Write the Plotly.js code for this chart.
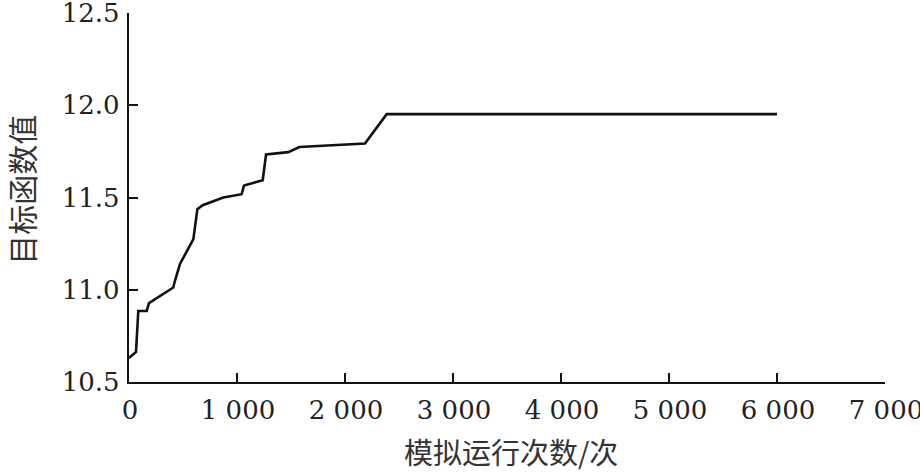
<!DOCTYPE html>
<html>
<head>
<meta charset="utf-8">
<script src="https://cdn.plot.ly/plotly-3.0.1.min.js"></script>
<style>html,body{margin:0;padding:0;background:#fff;}#chart{width:920px;height:473px;}</style>
</head>
<body>
<div id="chart"></div>
<script>
// Data
const runs = [0, 65, 86, 164, 185, 410, 426, 472, 596, 633, 682, 873, 1043, 1065, 1238, 1269, 1475, 1577, 2185, 2386, 6000];
const objective = [10.63, 10.663, 10.885, 10.885, 10.928, 11.012, 11.05, 11.14, 11.274, 11.437, 11.458, 11.50, 11.518, 11.565, 11.594, 11.733, 11.746, 11.774, 11.793, 11.952, 11.952];

const xTickVals = [0, 1000, 2000, 3000, 4000, 5000, 6000, 7000];
const xTickText = ["0", "1 000", "2 000", "3 000", "4 000", "5 000", "6 000", "7 000"];
const yTickVals = [10.5, 11.0, 11.5, 12.0, 12.5];
const yTickText = ["10.5", "11.0", "11.5", "12.0", "12.5"];

const xTitle = "模拟运行次数/次";
const yTitle = "目标函数值";

const serif = "DejaVu Serif, serif";
const cjk = "Noto Sans CJK SC";

const trace = {
  x: runs, y: objective, type: "scatter", mode: "lines",
  line: {color: "#111", width: 2.6}, hoverinfo: "skip", cliponaxis: false
};

const layout = {
  width: 920, height: 473,
  margin: {l: 129, r: 35, t: 13, b: 91, pad: 0},
  paper_bgcolor: "#fff", plot_bgcolor: "#fff",
  showlegend: false,
  font: {family: serif},
  xaxis: {
    range: [0, 7000], tickvals: xTickVals, ticktext: xTickText,
    showline: true, linecolor: "#111", linewidth: 2.2, mirror: false,
    showgrid: false, zeroline: false,
    ticks: "inside", ticklen: 9, tickwidth: 2, tickcolor: "#111",
    tickfont: {family: serif, size: 26, color: "#222"},
    ticklabelstandoff: 4, ticklabelshift: 1, ticklabeloverflow: "allow"
  },
  yaxis: {
    range: [10.5, 12.5], tickvals: yTickVals, ticktext: yTickText,
    showline: true, linecolor: "#111", linewidth: 2.2, mirror: false,
    showgrid: false, zeroline: false,
    ticks: "inside", ticklen: 9, tickwidth: 2, tickcolor: "#111",
    tickfont: {family: serif, size: 26, color: "#222"},
    ticklabelstandoff: 2, ticklabeloverflow: "allow"
  },
  annotations: [
    {text: xTitle, xref: "paper", yref: "paper", x: (511 - 129) / 756, y: -(451 - 381.7) / 368.7,
     xanchor: "center", yanchor: "middle", showarrow: false, borderpad: 0,
     font: {family: cjk, size: 29, color: "#333"}},
    {text: yTitle, xref: "paper", yref: "paper", x: -(129 - 21) / 756, y: (381.7 - 189.5) / 368.7,
     xanchor: "center", yanchor: "middle", showarrow: false, textangle: -90, borderpad: 0,
     font: {family: cjk, size: 30, color: "#333"}}
  ]
};

Plotly.newPlot("chart", [trace], layout, {displayModeBar: false, staticPlot: true});
</script>
</body>
</html>
